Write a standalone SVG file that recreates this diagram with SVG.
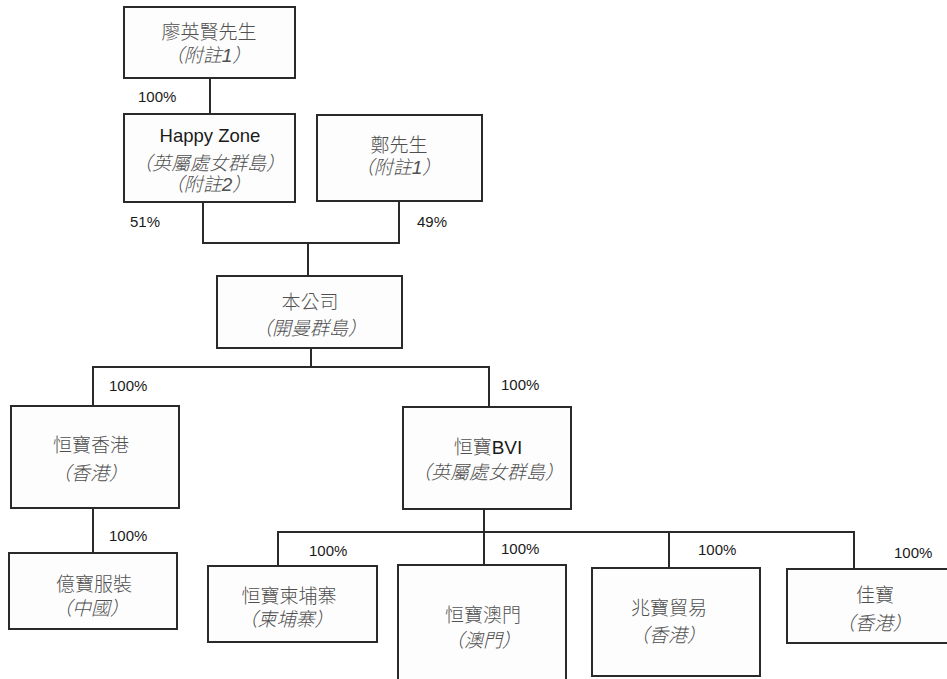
<svg xmlns="http://www.w3.org/2000/svg" width="947" height="679" viewBox="0 0 947 679">
<style>
.box{fill:#fdfdfd;stroke:#2a2a2a;stroke-width:2}
.ln{fill:none;stroke:#2a2a2a;stroke-width:2}
.cn{font-family:"Liberation Sans","Noto Sans CJK TC",sans-serif;font-size:19px;font-weight:300;fill:#505050;text-anchor:middle}
.it{font-family:"Liberation Sans","Noto Sans CJK TC",sans-serif;font-size:19px;font-weight:300;fill:#505050;text-anchor:middle;font-style:italic}
.en{font-family:"Liberation Sans",Arial,sans-serif;font-size:18.5px;fill:#1a1a1a;text-anchor:middle}
.pc{font-family:"Liberation Sans",Arial,sans-serif;font-size:15px;fill:#1a1a1a}
</style>
<rect width="947" height="679" fill="#ffffff"/>
<g id="connectors">
<path class="ln" d="M210,78 V114"/>
<path class="ln" d="M203,202 V243 H399 V201"/>
<path class="ln" d="M308,243 V276"/>
<path class="ln" d="M311,348 V367"/>
<path class="ln" d="M93,406 V367 H489 V407"/>
<path class="ln" d="M93,508 V553"/>
<path class="ln" d="M484,509 V565"/>
<path class="ln" d="M278,566 V532 H854 V569"/>
<path class="ln" d="M669,532 V568"/>
<text class="pc" x="138" y="102">100%</text>
<text class="pc" x="130" y="226.5">51%</text>
<text class="pc" x="417" y="227">49%</text>
<text class="pc" x="109" y="391">100%</text>
<text class="pc" x="501" y="389.5">100%</text>
<text class="pc" x="109" y="541">100%</text>
<text class="pc" x="309" y="556">100%</text>
<text class="pc" x="501" y="554">100%</text>
<text class="pc" x="698" y="555">100%</text>
<text class="pc" x="894" y="558">100%</text>
</g>
<g id="n-liao">
<rect class="box" x="124" y="7" width="171" height="71"/>
<text class="cn" x="209" y="39">廖英賢先生</text>
<text class="it" x="208" y="62">（附註1）</text>
</g>
<g id="n-happyzone">
<rect class="box" x="124" y="114" width="171" height="88"/>
<text class="en" x="210" y="142">Happy Zone</text>
<text class="it" x="209" y="170">（英屬處女群島）</text>
<text class="it" x="208" y="191">（附註2）</text>
</g>
<g id="n-zheng">
<rect class="box" x="317" y="115" width="165" height="86"/>
<text class="cn" x="399" y="152">鄭先生</text>
<text class="it" x="398" y="174">（附註1）</text>
</g>
<g id="n-company">
<rect class="box" x="217" y="276" width="185" height="72"/>
<text class="cn" x="310" y="309">本公司</text>
<text class="it" x="310" y="335">（開曼群島）</text>
</g>
<g id="n-hk">
<rect class="box" x="11" y="406" width="168" height="102"/>
<text class="cn" x="91" y="452">恒寶香港</text>
<text class="it" x="90" y="480">（香港）</text>
</g>
<g id="n-bvi">
<rect class="box" x="403" y="407" width="168" height="102"/>
<text class="cn" x="488" y="454">恒寶<tspan fill="#1a1a1a" font-weight="400">BVI</tspan></text>
<text class="it" x="488" y="479">（英屬處女群島）</text>
</g>
<g id="n-yibao">
<rect class="box" x="9" y="553" width="168" height="76"/>
<text class="cn" x="94" y="591">億寶服裝</text>
<text class="it" x="91" y="615">（中國）</text>
</g>
<g id="n-cambodia">
<rect class="box" x="208" y="566" width="169" height="76"/>
<text class="cn" x="289" y="603">恒寶柬埔寨</text>
<text class="it" x="286" y="626">（柬埔寨）</text>
</g>
<g id="n-macau">
<rect class="box" x="398" y="565" width="168" height="130"/>
<text class="cn" x="483" y="622">恒寶澳門</text>
<text class="it" x="483" y="647">（澳門）</text>
</g>
<g id="n-zhaobao">
<rect class="box" x="592" y="568" width="168" height="108"/>
<text class="cn" x="669" y="615">兆寶貿易</text>
<text class="it" x="668" y="642">（香港）</text>
</g>
<g id="n-jiabao">
<rect class="box" x="787" y="569" width="175" height="74"/>
<text class="cn" x="875" y="602">佳寶</text>
<text class="it" x="874" y="630">（香港）</text>
</g>
</svg>
